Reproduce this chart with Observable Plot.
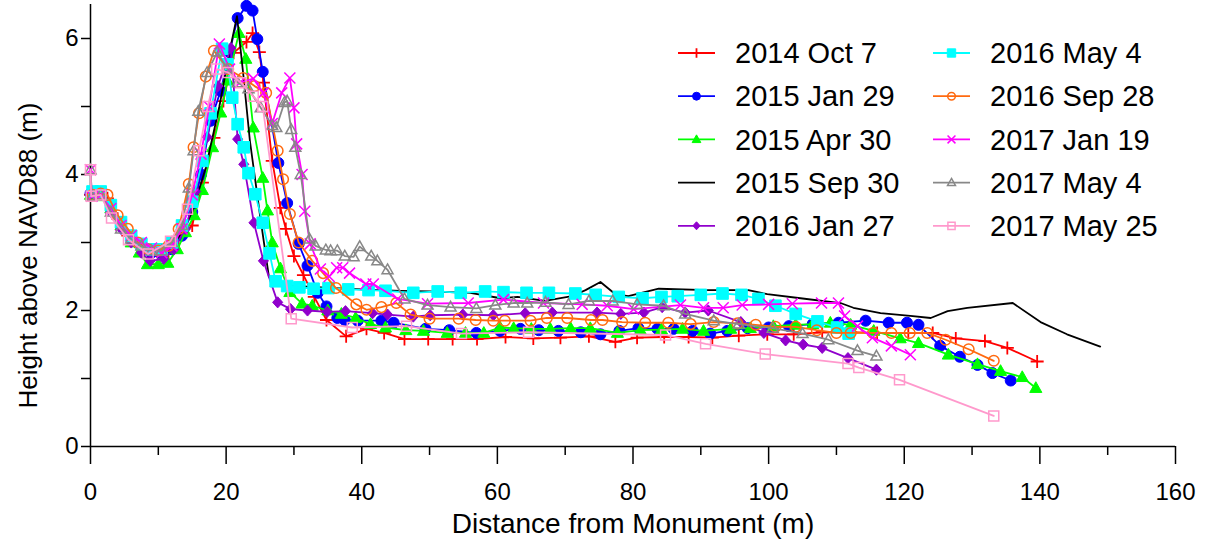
<!DOCTYPE html>
<html>
<head>
<meta charset="utf-8">
<script src="https://cdn.jsdelivr.net/npm/d3@7"></script>
<script src="https://cdn.jsdelivr.net/npm/@observablehq/plot@0.6"></script>
<style>
  html, body { margin: 0; padding: 0; background: #fff; }
  #wrap { position: relative; width: 1207px; height: 543px; font-family: "Liberation Sans", Arial, sans-serif; }
  #legend { position: absolute; left: 672px; top: 30px; }
</style>
</head>
<body>
<div id="wrap"><div id="chart"></div><div id="legend"></div></div>
<script>
// ---- Data: [distance (m), height (m)] per survey ----
const s2014Oct7 = [[0,3.7],[1.2,3.72],[2.5,3.65],[4,3.35],[5.5,3.1],[7,2.95],[8.5,2.85],[10,2.8],[11.5,2.85],[13,3.05],[15,3.25],[16.5,3.88],[18.2,4.54],[19.6,5.08],[21.1,5.79],[23,5.95],[23.9,6.08],[24.9,5.8],[25.5,5.35],[26.8,4.2],[28,3.51],[28.8,3.2],[30,2.8],[31.4,2.52],[33,2.2],[34.8,1.86],[37.7,1.62],[40.7,1.73],[43.3,1.67],[46.3,1.58],[49.8,1.58],[53.4,1.58],[57,1.58],[61.2,1.61],[65.3,1.59],[69.3,1.6],[73.5,1.62],[77.4,1.54],[80.6,1.6],[84.6,1.61],[88.2,1.61],[91.7,1.6],[95.6,1.63],[99.8,1.65],[103.7,1.65],[107.9,1.68],[112,1.68],[116,1.67],[120.6,1.67],[124.2,1.67],[127.6,1.59],[131.9,1.55],[135.2,1.45],[139.6,1.25]];
const s2015Jan29 = [[0,3.72],[1.5,3.7],[3,3.55],[4.5,3.3],[6,3.1],[7.5,2.95],[9,2.85],[10.5,2.82],[12,2.9],[13.5,3.1],[15,3.45],[16.3,4.0],[17.7,4.79],[19.2,5.23],[20.5,5.8],[21.7,6.3],[23,6.48],[23.9,6.41],[24.6,5.99],[25.4,5.51],[27.7,4.17],[29,3.58],[30.7,2.98],[32,2.66],[33.5,2.26],[34.8,2.06],[36.4,1.89],[37.5,1.86],[39.4,1.85],[42.9,1.85],[44.7,1.82],[49.4,1.73],[52.9,1.71],[56.9,1.67],[60.4,1.7],[63.4,1.73],[66.1,1.71],[69,1.7],[72.3,1.68],[75.2,1.65],[78,1.7],[80.8,1.74],[83.6,1.73],[86,1.73],[88.8,1.7],[91.4,1.66],[93.9,1.7],[96.9,1.74],[100,1.75],[103,1.77],[106.5,1.8],[110.3,1.82],[114.3,1.85],[117.7,1.82],[120.4,1.82],[122.1,1.79],[125.3,1.48],[128.2,1.32],[130.8,1.2],[133,1.08],[135.7,0.97]];
const s2015Apr30 = [[0,3.7],[1.5,3.68],[3,3.5],[4.5,3.25],[6,3.0],[7.2,2.85],[8.4,2.68],[10,2.68],[11.4,2.7],[12.8,2.9],[14,3.15],[15.3,3.4],[16.5,3.77],[18,4.4],[19.2,4.91],[20.2,5.38],[21.9,6.08],[22.9,5.7],[24,4.69],[25.4,3.95],[26.1,3.47],[26.8,3.0],[28,2.62],[29.4,2.27],[31.2,2.1],[32.7,2.07],[35,2.0],[37,1.95],[39.1,1.89],[41.3,1.8],[43.5,1.75],[46.5,1.71],[49.1,1.7],[52.6,1.67],[55.3,1.67],[58,1.67],[60.4,1.75],[62.4,1.74],[65,1.73],[67.8,1.73],[70.8,1.74],[73.7,1.74],[77.7,1.67],[81.1,1.71],[84.2,1.72],[87.3,1.73],[90.4,1.7],[94.4,1.73],[97.3,1.74],[100.7,1.77],[104,1.79],[106.5,1.8],[109.1,1.82],[112.1,1.79],[115.5,1.7],[119.4,1.59],[122.1,1.52],[126.5,1.35],[130.8,1.21],[134.2,1.11],[137.4,1.02],[139.4,0.86]];
const s2015Sep30 = [[0,3.7],[1.5,3.7],[3,3.5],[4.5,3.25],[6,3.05],[7.5,2.92],[9,2.85],[10.5,2.82],[12,2.92],[13.5,3.15],[15,3.45],[17,4.1],[19,5.0],[20.5,5.8],[21.6,6.33],[22.5,5.5],[23.5,4.5],[25,3.4],[26.3,2.5],[27.5,2.38],[32,2.35],[36,2.33],[40,2.31],[45.7,2.29],[50,2.28],[56,2.26],[60.5,2.18],[63,2.2],[67,2.14],[71,2.21],[73,2.3],[75.2,2.42],[77.4,2.24],[79.3,2.21],[83.8,2.32],[91,2.3],[97,2.3],[99.8,2.24],[104.7,2.18],[110.6,2.11],[112.5,2.04],[116.5,1.96],[120.9,1.92],[123.9,1.89],[126.4,1.99],[129.3,2.04],[136,2.11],[140.1,1.83],[144,1.65],[148.9,1.47]];
const s2016Jan27 = [[0,3.72],[1.5,3.7],[3,3.45],[4.5,3.2],[6,3.0],[7.5,2.85],[8.8,2.73],[10.8,2.76],[12.3,2.9],[14,3.2],[15.5,3.75],[17.2,4.55],[18.8,5.3],[20.7,5.86],[21.7,4.52],[22.6,4.15],[24.1,3.29],[25.5,2.73],[27.6,2.12],[29.5,2.02],[32,2.0],[34.9,1.98],[37.6,1.99],[41.6,1.96],[43.8,1.94],[47.6,1.91],[50.1,1.93],[54.9,1.94],[59.4,1.93],[64.1,1.96],[68.1,1.97],[74.7,1.97],[78.2,1.95],[81.6,1.97],[84.3,2.05],[87.7,1.97],[91.1,2.0],[95.9,1.83],[99.3,1.67],[102.5,1.56],[105.1,1.5],[107.9,1.45],[111.7,1.3],[115.9,1.13]];
const s2016May4 = [[0.3,3.75],[1.5,3.75],[3,3.55],[4.5,3.3],[6,3.1],[7.5,2.98],[9,2.9],[10.5,2.9],[12,3.0],[13.5,3.25],[15,3.6],[16.5,4.2],[17.7,4.9],[19.4,5.85],[20.2,5.62],[20.9,5.13],[21.7,4.74],[22.6,4.4],[23.3,4.02],[24.3,3.71],[25.4,3.29],[26.4,2.84],[27.3,2.43],[29,2.36],[30.8,2.34],[32.9,2.32],[35.1,2.33],[38,2.31],[41,2.3],[43.5,2.29],[47.6,2.26],[51.2,2.28],[54.6,2.26],[58.2,2.28],[60.9,2.27],[64.3,2.26],[67.6,2.26],[71.5,2.25],[74.5,2.23],[77.9,2.2],[81.4,2.18],[84.2,2.2],[86.6,2.21],[90,2.23],[93.2,2.25],[96,2.23],[98.5,2.17],[101,2.07],[104,1.95],[107.2,1.84],[110.1,1.75],[111.8,1.66]];
const s2016Sep28 = [[0.3,3.7],[1.5,3.72],[2.5,3.7],[4,3.4],[5.5,3.2],[7,3.0],[8.5,2.9],[10,2.88],[11.5,2.95],[13,3.2],[14.5,3.86],[15.2,4.4],[16,4.9],[17,5.44],[18.2,5.82],[20.3,5.55],[22.5,5.42],[24.2,5.3],[25.9,5.2],[27.6,4.35],[28.4,3.93],[29.4,3.42],[30.7,3.0],[32.7,2.73],[34.3,2.55],[36.2,2.33],[39.2,2.09],[40.7,2.01],[42.9,2.05],[45.1,2.11],[47.2,1.94],[50,1.88],[54.3,1.88],[56.8,1.86],[59.4,1.85],[61.1,1.85],[64.9,1.85],[67.3,1.89],[70.3,1.89],[73.8,1.86],[75.5,1.86],[78.4,1.83],[81.8,1.82],[85.2,1.82],[88.5,1.8],[91.9,1.83],[95.4,1.81],[98.1,1.79],[101,1.76],[104,1.76],[107.1,1.71],[110,1.67],[112.1,1.67],[115.4,1.67],[118.1,1.67],[120.8,1.67],[123.4,1.67],[126.1,1.57],[129.5,1.43],[133.2,1.26]];
const s2017Jan19 = [[0,4.07],[0.2,3.68],[1.5,3.7],[3,3.5],[4.5,3.25],[6,3.1],[7.5,3.0],[9,2.92],[10.5,2.85],[12,2.95],[13.5,3.2],[15,3.7],[16.3,4.3],[17.5,5.0],[19,5.92],[20.5,5.55],[22,5.35],[24,5.41],[25.5,5.2],[26.8,4.75],[28.2,5.2],[29.4,5.42],[30,4.98],[30.4,4.45],[31.2,4.0],[31.6,3.46],[32.4,2.98],[33.9,2.61],[35.2,2.5],[36.3,2.63],[37.2,2.63],[38.2,2.55],[40.6,2.39],[41.7,2.39],[45.3,2.17],[49.7,2.1],[55.7,2.11],[60.9,2.16],[66.8,2.11],[72.5,2.09],[76.2,2.07],[80.1,2.02],[87,2.08],[90.4,2.04],[93.3,2.04],[96.1,2.08],[100,2.09],[103.5,2.1],[107.8,2.11],[110.3,2.11],[111.2,1.92],[113.1,1.77],[115.3,1.6],[118.1,1.48],[120.9,1.35]];
const s2017May4 = [[0,4.07],[0.2,3.68],[1.5,3.7],[3,3.45],[4.5,3.2],[6,3.05],[7.5,2.95],[9,2.88],[10.5,2.88],[12,3.0],[13.5,3.25],[14.5,3.8],[15.2,4.35],[15.9,4.93],[17.2,5.5],[18.7,5.8],[20.2,5.55],[21.7,5.35],[23.3,5.26],[25.1,4.98],[26.8,4.72],[27.4,4.69],[28.6,5.06],[29,5.08],[29.6,4.66],[30.2,4.4],[31,4.0],[32.3,3.05],[33.2,2.95],[34.7,2.89],[35.4,2.88],[36.4,2.88],[37.5,2.8],[38.8,2.79],[39.7,2.94],[41.4,2.8],[42.3,2.73],[43.8,2.6],[46.3,2.17],[49.7,2.08],[53.1,2.05],[56.9,2.03],[59.7,2.08],[62.4,2.11],[64.4,2.11],[67.1,2.12],[70.5,2.09],[73.5,2.14],[77,2.14],[80.6,2.09],[84.5,2.07],[87.7,1.95],[91.9,1.85],[95.6,1.8],[100.6,1.74],[105,1.66],[108.8,1.57],[113.1,1.41],[115.9,1.33]];
const s2017May25 = [[0,4.07],[0.1,3.68],[1.5,3.7],[3.1,3.36],[5.6,3.04],[8.5,2.83],[11.8,3.02],[14.3,3.49],[16,4.35],[17.3,5.0],[18.6,5.55],[20.3,5.5],[22.2,5.35],[24,5.15],[25.4,5.0],[29.6,1.88],[38.6,1.75],[46.6,1.77],[54.7,1.66],[64.6,1.68],[84.8,1.64],[90.7,1.51],[99.5,1.36],[111.7,1.22],[113.3,1.16],[119.3,0.98],[133.2,0.45]];

const names = ["2014 Oct 7","2015 Jan 29","2015 Apr 30","2015 Sep 30","2016 Jan 27","2016 May 4","2016 Sep 28","2017 Jan 19","2017 May 4","2017 May 25"];
const colors = ["#ff0000","#0000ff","#00ff00","#000000","#9000cc","#00ffff","#ff6a10","#ff00ff","#888888","#ff99cc"];
const markers = ["plus","circle","triangle","none","diamond","square","circleOpen","times","triangleOpen","squareOpen"];
const datasets = [s2014Oct7,s2015Jan29,s2015Apr30,s2015Sep30,s2016Jan27,s2016May4,s2016Sep28,s2017Jan19,s2017May4,s2017May25];
const xTicks = [0,20,40,60,80,100,120,140,160];
const xMinor = [10,30,50,70,90,110,130,150];
const yTicks = [0,1,2,3,4,5,6];

// ---- custom symbols (size = pi r^2) ----
function sym(fn){ return {draw(ctx,size){ fn(ctx, Math.sqrt(size/Math.PI)); }}; }
const shapes = {
  circle: sym((c,h)=>{c.moveTo(h,0); c.arc(0,0,h,0,2*Math.PI);}),
  square: sym((c,h)=>{c.rect(-h,-h,2*h,2*h);}),
  triangle: sym((c,h)=>{c.moveTo(0,-h*1.15); c.lineTo(h*1.1,h*0.8); c.lineTo(-h*1.1,h*0.8); c.closePath();}),
  diamond: sym((c,h)=>{c.moveTo(0,-h*1.05); c.lineTo(h*0.95,0); c.lineTo(0,h*1.05); c.lineTo(-h*0.95,0); c.closePath();}),
  plus: sym((c,h)=>{c.moveTo(-h,0); c.lineTo(h,0); c.moveTo(0,-h); c.lineTo(0,h);}),
  times: sym((c,h)=>{c.moveTo(-h,-h); c.lineTo(h,h); c.moveTo(h,-h); c.lineTo(-h,h);})
};
function markerSpec(m, color){
  switch(m){
    case "plus": return {symbol: shapes.plus, fill: "none", stroke: color, r: 6.5, strokeWidth: 1.8};
    case "times": return {symbol: shapes.times, fill: "none", stroke: color, r: 5.5, strokeWidth: 1.5};
    case "circle": return {symbol: shapes.circle, fill: color, stroke: color, r: 5.5, strokeWidth: 1};
    case "triangle": return {symbol: shapes.triangle, fill: color, stroke: color, r: 5.5, strokeWidth: 1};
    case "diamond": return {symbol: shapes.diamond, fill: color, stroke: color, r: 5.3, strokeWidth: 1};
    case "square": return {symbol: shapes.square, fill: color, stroke: color, r: 5.8, strokeWidth: 1};
    case "circleOpen": return {symbol: shapes.circle, fill: "none", stroke: color, r: 5.3, strokeWidth: 1.5};
    case "triangleOpen": return {symbol: shapes.triangle, fill: "none", stroke: color, r: 5, strokeWidth: 1.5};
    case "squareOpen": return {symbol: shapes.square, fill: "none", stroke: color, r: 5, strokeWidth: 1.5};
  }
  return null;
}

const marks = [];
datasets.forEach((d, i) => {
  const rows = d.map(([x,y]) => ({x, y}));
  marks.push(Plot.line(rows, {x: "x", y: "y", stroke: colors[i], strokeWidth: 1.8}));
  const ms = markerSpec(markers[i], colors[i]);
  if (ms) marks.push(Plot.dot(rows, {x: "x", y: "y", ...ms}));
});

const chart = Plot.plot({
  width: 1207, height: 543,
  marginLeft: 90, marginRight: 32, marginTop: 4, marginBottom: 97,
  style: {fontFamily: '"Liberation Sans", Arial, sans-serif', fontSize: "24px", color: "#000", background: "#fff", overflow: "visible"},
  x: {domain: [0,160], axis: null},
  y: {domain: [0,6.5], axis: null},
  marks: [
    Plot.axisX({ticks: xTicks, tickSize: 18, tickPadding: 18, fontSize: 24, label: null, strokeWidth: 1.5}),
    Plot.axisX({ticks: xMinor, tickSize: 9, tickFormat: () => "", label: null, strokeWidth: 1.5}),
    Plot.axisY({ticks: yTicks, tickSize: 9, tickPadding: 3, fontSize: 24, label: null, strokeWidth: 1.5, tickFormat: d => d % 2 === 0 ? String(d) : ""}),
    Plot.ruleY([0], {x1: 0, x2: 160, stroke: "#000", strokeWidth: 1.5}),
    Plot.ruleX([0], {y1: 0, y2: 6.5, stroke: "#000", strokeWidth: 1.5}),
    ...marks,
    Plot.text(["Distance from Monument (m)"], {frameAnchor: "bottom", dy: 86, fontSize: 28, fill: "#000"}),
    Plot.text(["Height above NAVD88 (m)"], {frameAnchor: "left", textAnchor: "middle", rotate: -90, dx: -62, dy: 30, fontSize: 26, fill: "#000"})
  ]
});
document.getElementById("chart").appendChild(chart);

// ---- legend ----
const leg = d3.select("#legend").append("svg").attr("width", 520).attr("height", 220)
  .style("font-family", '"Liberation Sans", Arial, sans-serif');
names.forEach((n, i) => {
  const col = i < 5 ? 0 : 1, row = i % 5;
  const gx = col * 255, gy = 23 + row * 43.2;
  const g = leg.append("g").attr("transform", `translate(${gx},${gy})`);
  g.append("line").attr("x1", 6).attr("x2", 43).attr("y1", 0).attr("y2", 0).attr("stroke", colors[i]).attr("stroke-width", 1.8);
  const ms = markerSpec(markers[i], colors[i]);
  if (ms) {
    const s = Math.PI * Math.pow(ms.r * 0.72, 2);
    const p = d3.path(); ms.symbol.draw(p, s);
    g.append("path").attr("d", p.toString()).attr("transform", "translate(24.5,0)")
      .attr("fill", ms.fill).attr("stroke", ms.stroke).attr("stroke-width", ms.strokeWidth);
  }
  g.append("text").attr("x", 63).attr("y", 0).attr("dy", "0.35em").attr("font-size", 29).attr("fill", "#000").text(n);
});
</script>
</body>
</html>
